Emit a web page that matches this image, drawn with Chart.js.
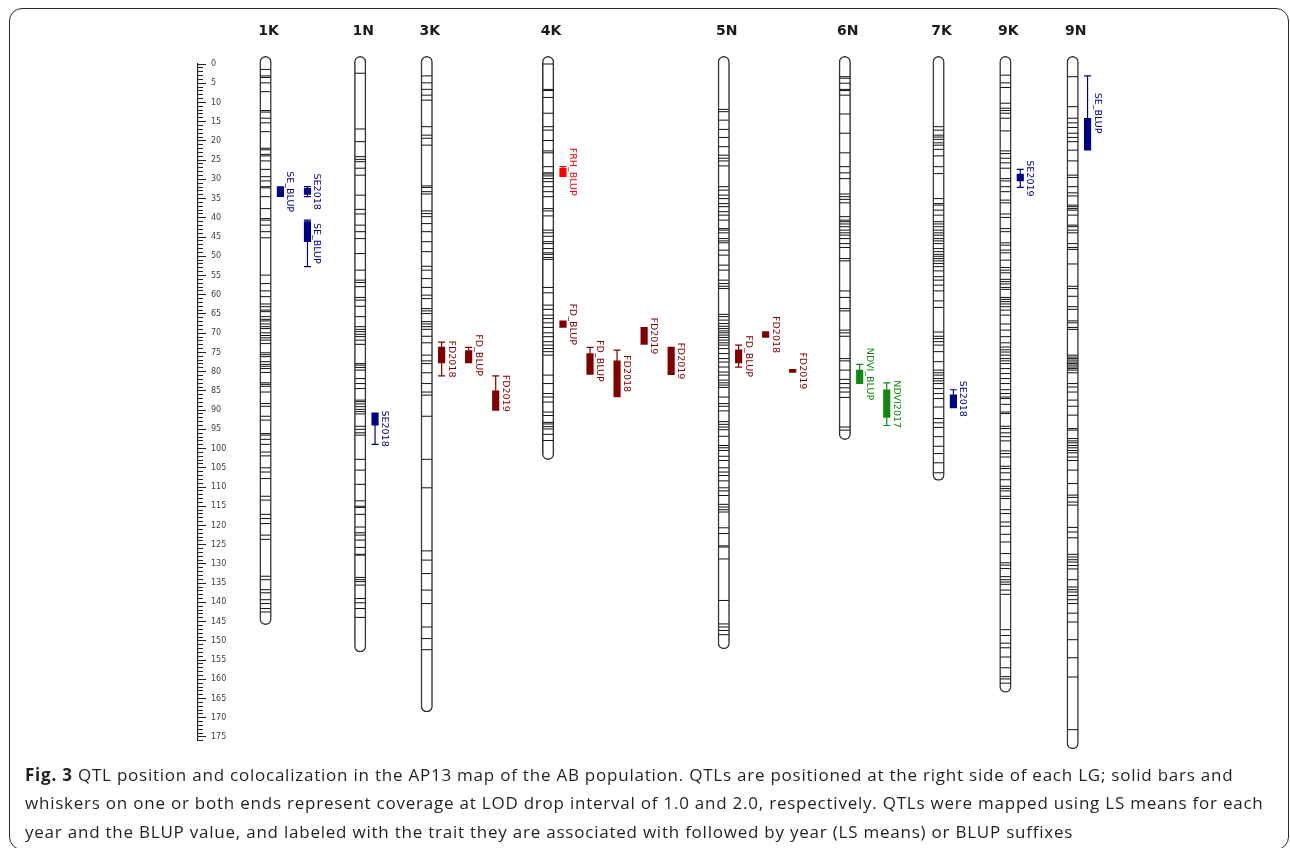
<!DOCTYPE html>
<html>
<head>
<meta charset="utf-8">
<script src="https://cdn.jsdelivr.net/npm/chart.js@4.4.1/dist/chart.umd.min.js"></script>
<style>
  html, body { margin: 0; padding: 0; background: #fff; }
  body { width: 1290px; height: 848px; position: relative; overflow: hidden; }
  #frame { position: absolute; left: 9px; top: 8px; width: 1280px; height: 842px;
           border: 1.5px solid #2a2a2a; border-radius: 13px; box-sizing: border-box; }
  canvas { position: absolute; top: 0; }
  #map { left: 0; }
  #ruler { left: 148px; }
  #caption { position: absolute; left: 25px; top: 761px; font: 17px "Open Sans", sans-serif;
             letter-spacing: 0.77px; line-height: 28.3px; color: #231f20; white-space: nowrap; }
  #caption b { font-weight: 700; }
</style>
</head>
<body>
<div id="frame"></div>
<canvas id="map" width="1290" height="848"></canvas>
<canvas id="ruler" width="90" height="848"></canvas>
<div id="caption"><b>Fig. 3</b> QTL position and colocalization in the AP13 map of the AB population. QTLs are positioned at the right side of each LG; solid bars and<br>whiskers on one or both ends represent coverage at LOD drop interval of 1.0 and 2.0, respectively. QTLs were mapped using LS means for each<br>year and the BLUP value, and labeled with the trait they are associated with followed by year (LS means) or BLUP suffixes</div>
<script>
/* ---------- data (cM) ---------- */
const LG_NAMES = ['1K', '1N', '3K', '4K', '5N', '6N', '7K', '9K', '9N'];
const LG_END   = [145.8, 152.9, 168.5, 102.9, 152.1, 97.7, 108.3, 163.4, 178.1];

const M_1K = [1.4, 3.1, 3.5, 4.9, 7.2, 12.1, 12.5, 14.1, 15.3, 17.6, 21.9, 22.3, 23.5, 23.9, 25.2, 27.4, 29.3, 30.4,
  31.9, 32.2, 34.5, 37.6, 40.2, 40.6, 41.9, 43.6, 45.2, 54.9, 57.1, 59.0, 60.5, 62.4, 63.1, 64.0, 64.4, 65.7, 66.4,
  66.8, 67.6, 68.3, 68.8, 69.9, 70.6, 71.2, 71.8, 72.7, 75.1, 75.6, 76.1, 77.4, 78.1, 78.6, 79.2, 80.2, 82.9, 83.3,
  83.8, 85.3, 88.3, 89.0, 91.6, 92.6, 96.1, 96.5, 97.6, 98.9, 100.9, 101.9, 105.0, 106.1, 107.8, 112.4, 113.4,
  117.1, 118.2, 119.5, 122.5, 123.6, 133.2, 134.1, 136.7, 137.5, 139.3, 140.3, 141.6, 142.5];
const M_1N = [2.4, 16.9, 20.2, 24.1, 24.8, 25.4, 27.1, 28.9, 34.1, 37.8, 39.0, 41.9, 43.6, 45.4, 49.3, 53.6, 56.2,
  56.8, 57.9, 60.7, 61.4, 63.0, 65.7, 68.3, 69.0, 69.6, 70.3, 70.9, 71.8, 72.9, 77.9, 78.3, 78.9, 79.6, 81.8, 83.1,
  84.4, 87.4, 87.8, 88.4, 89.1, 89.8, 90.4, 91.0, 94.2, 95.0, 95.9, 96.5, 102.8, 105.6, 109.3, 113.6, 115.0, 115.3,
  117.1, 120.4, 121.9, 122.5, 123.8, 125.7, 127.5, 127.7, 133.5, 134.1, 134.6, 135.5, 139.0, 140.1, 141.6, 143.9];
const M_3K = [3.1, 4.9, 6.6, 8.1, 9.4, 16.3, 18.5, 19.3, 21.1, 31.7, 32.1, 33.2, 33.8, 38.2, 38.9, 39.7, 41.5, 43.6,
  46.2, 48.8, 52.6, 53.6, 55.8, 58.1, 60.1, 61.0, 63.6, 64.2, 64.9, 67.0, 67.6, 68.3, 69.0, 70.8, 72.5, 75.7, 77.2,
  77.9, 80.3, 83.1, 85.3, 86.1, 91.6, 102.8, 110.2, 126.6, 129.0, 132.5, 136.8, 140.3, 146.4, 149.4, 152.3];
const M_4K = [0, 6.6, 6.9, 8.7, 12.8, 16.3, 17.2, 19.9, 22.6, 23.1, 26.7, 28.3, 28.6, 29.1, 29.8, 30.6, 31.9, 33.2,
  34.5, 37.6, 38.2, 39.5, 43.2, 43.9, 44.8, 46.2, 46.7, 48.0, 49.1, 49.5, 50.3, 50.8, 58.1, 59.5, 62.7, 63.8, 65.3,
  66.2, 67.3, 68.5, 69.9, 70.9, 72.2, 73.1, 74.0, 74.8, 75.7, 80.9, 83.1, 85.7, 86.6, 87.9, 90.5, 91.4, 93.2, 93.6,
  94.3, 94.9, 96.3, 97.9];
const M_5N = [11.8, 12.4, 14.6, 17.0, 19.1, 21.5, 23.7, 24.5, 25.2, 26.5, 31.9, 32.8, 34.1, 35.0, 36.3, 37.1, 38.4,
  39.3, 40.6, 42.8, 43.2, 43.9, 45.4, 46.0, 46.5, 48.4, 49.7, 52.3, 53.6, 56.2, 57.1, 57.8, 58.4, 65.1, 65.7, 66.6,
  67.5, 68.2, 68.8, 69.4, 69.9, 70.5, 71.1, 71.8, 72.5, 73.1, 74.0, 75.3, 76.6, 77.5, 78.8, 80.1, 80.9, 82.2, 82.9,
  83.5, 84.1, 86.6, 88.3, 89.0, 90.2, 93.0, 93.7, 94.4, 95.1, 96.8, 99.2, 99.8, 100.5, 102.0, 103.1, 105.0, 106.1,
  107.0, 108.4, 110.2, 111.0, 112.2, 114.5, 115.2, 115.9, 116.5, 120.6, 122.1, 125.3, 125.6, 128.7, 139.5, 145.6,
  146.4, 147.3, 148.4];
const M_6N = [3.3, 3.7, 5.0, 6.6, 6.9, 8.1, 13.0, 18.0, 23.1, 26.7, 28.3, 29.8, 33.8, 34.5, 35.2, 36.1, 39.7, 40.6,
  41.0, 41.6, 42.3, 43.2, 43.9, 44.5, 45.4, 46.7, 47.7, 50.6, 51.2, 59.0, 60.7, 63.6, 64.2, 69.2, 69.9, 70.8, 76.6,
  77.2, 79.6, 82.0, 83.1, 84.2, 85.3, 86.7, 94.4, 95.2];
const M_7K = [16.3, 17.2, 18.5, 19.0, 19.6, 20.5, 21.1, 22.2, 23.9, 26.7, 28.5, 35.0, 36.3, 36.7, 38.0, 39.3, 41.0,
  41.6, 42.3, 43.2, 43.9, 44.5, 45.4, 46.0, 46.7, 48.0, 48.8, 49.5, 50.0, 50.6, 51.2, 51.9, 52.7, 53.8, 55.3, 56.2,
  57.5, 59.0, 61.6, 63.3, 69.7, 70.8, 71.4, 72.2, 73.1, 74.8, 77.4, 79.6, 80.3, 80.9, 81.8, 82.4, 83.1, 84.4, 85.7,
  87.0, 89.2, 92.2, 93.3, 94.5, 96.9, 99.4, 101.3, 103.7, 106.3];
const M_9K = [2.9, 4.9, 6.1, 10.2, 11.5, 12.1, 12.8, 14.1, 17.4, 22.6, 23.3, 24.5, 25.7, 27.1, 29.8, 30.4, 31.9, 33.2,
  35.4, 36.1, 39.0, 39.9, 42.8, 43.6, 46.5, 47.1, 48.4, 49.1, 51.0, 52.9, 53.6, 54.3, 56.0, 56.6, 57.2, 58.1, 58.6,
  60.7, 61.2, 61.8, 62.4, 63.1, 64.0, 65.3, 67.6, 69.2, 70.9, 72.5, 73.6, 74.3, 74.9, 75.7, 76.6, 77.2, 77.9, 79.2,
  80.5, 81.8, 83.1, 84.7, 85.7, 86.6, 87.0, 88.5, 90.5, 90.9, 94.2, 94.8, 95.9, 96.9, 98.0, 100.6, 101.3, 102.2,
  104.6, 105.2, 106.3, 108.1, 109.8, 110.4, 111.0, 112.4, 113.0, 115.9, 116.9, 119.1, 120.2, 122.3, 124.3, 127.3,
  129.7, 130.3, 131.2, 133.3, 134.1, 134.7, 135.3, 136.8, 137.9, 147.1, 148.6, 150.6, 151.8, 154.2, 157.0, 159.3,
  159.9, 161.0];
const M_9N = [3.3, 11.1, 14.1, 15.3, 16.5, 18.0, 19.1, 20.2, 22.4, 25.2, 28.9, 29.5, 31.9, 33.5, 34.3, 36.7, 37.1,
  37.6, 38.0, 39.3, 41.9, 42.3, 43.2, 43.9, 46.7, 47.7, 48.2, 52.0, 57.8, 58.4, 60.4, 63.1, 63.8, 66.8, 67.3, 68.5,
  69.0, 75.7, 76.2, 76.6, 77.0, 77.5, 77.9, 78.3, 78.8, 79.2, 79.6, 80.3, 83.1, 84.0, 85.3, 87.4, 89.0, 91.3, 94.8,
  95.2, 97.4, 98.0, 98.5, 99.2, 99.8, 100.5, 101.1, 102.2, 103.1, 105.6, 109.1, 112.1, 112.7, 113.9, 114.7, 120.5,
  121.7, 123.2, 127.5, 128.2, 128.9, 129.5, 130.4, 131.3, 134.1, 136.0, 136.7, 137.3, 138.2, 139.3, 140.3, 142.8,
  145.1, 149.7, 154.4, 159.4, 173.1];
const MARKERS = [M_1K, M_1N, M_3K, M_4K, M_5N, M_6N, M_7K, M_9K, M_9N];

// QTLs: linkage group, label, LOD-1.0 interval (bar), LOD-2.0 ends (whiskers, null = none)
const QTL_LG    = ['1K', '1K', '1K', '1N', '3K', '3K', '3K', '4K', '4K', '4K', '4K', '4K', '4K',
                   '5N', '5N', '5N', '6N', '6N', '7K', '9K', '9N'];
const QTL_NAME  = ['SE_BLUP', 'SE2018', 'SE_BLUP', 'SE2018', 'FD2018', 'FD_BLUP', 'FD2019', 'FRH_BLUP', 'FD_BLUP',
                   'FD_BLUP', 'FD2018', 'FD2019', 'FD2019', 'FD_BLUP', 'FD2018', 'FD2019', 'NDVI_BLUP', 'NDVI2017',
                   'SE2018', 'SE2019', 'SE_BLUP'];
const QTL_LOD1  = [[31.9, 34.5], [32.3, 33.9], [41.0, 46.2], [90.7, 93.9], [73.6, 77.7], [74.5, 77.7], [85.0, 90.1],
                   [27.1, 29.3], [66.8, 68.5], [75.3, 80.7], [77.2, 86.6], [68.5, 72.9], [73.6, 80.8], [74.3, 77.7],
                   [69.6, 71.1], [79.4, 80.2], [79.6, 83.1], [84.7, 91.9], [86.0, 89.4], [28.6, 30.4], [14.1, 22.4]];
const QTL_LOD2  = [[null, null], [31.9, 34.5], [40.6, 52.7], [null, 98.9], [72.3, 81.1], [73.7, null], [81.1, null],
                   [26.7, null], [null, null], [73.7, null], [74.4, null], [null, null], [null, null], [73.1, 78.8],
                   [null, null], [null, null], [78.1, null], [82.9, 94.0], [84.7, null], [27.4, 32.1], [3.1, null]];

const RULER_MAX = 176, RULER_LABEL_STEP = 5;

/* ---------- layout / style ---------- */
const LG_X      = [262, 357.5, 424.7, 547.2, 724.5, 846.7, 941.3, 1008.8, 1076.7];
const QTL_COL   = [0, 1, 1, 0, 0, 1, 2, 0, 0, 1, 2, 3, 4, 0, 1, 2, 0, 1, 0, 0, 0];
const QTL_OFFSET = 15, QTL_STEP = 27.3, LABEL_GAP = 7;
const CM_PX = 3.8457, CM0_Y = 64, Y_MIN = -3, Y_MAX = 180, H = 848;
const TRAIT_COLORS = { SE: '#000080', FD: '#800000', FRH: '#ff0000', NDVI: '#118811' };

const traitColor = name => TRAIT_COLORS[name.replace(/_?(BLUP|\d{4})$/, '')];
const qtlX = i => LG_X[LG_NAMES.indexOf(QTL_LG[i])] + QTL_OFFSET + QTL_COL[i] * QTL_STEP;
const yPix = cm => CM0_Y + cm * CM_PX;

/* ---------- datasets ---------- */
const whiskerSets = QTL_NAME.map((name, i) => {
  const x = qtlX(i), [b0, b1] = QTL_LOD1[i], [w0, w1] = QTL_LOD2[i], c = traitColor(name);
  const pts = [];
  if (w0 != null) pts.push({ x, y: w0, cap: true }, { x, y: b0 });
  if (w0 != null && w1 != null) pts.push({ x, y: null });
  if (w1 != null) pts.push({ x, y: b1 }, { x, y: w1, cap: true });
  return {
    type: 'line', data: pts, borderColor: c, borderWidth: 1.2, spanGaps: false, fill: false,
    pointStyle: 'line', pointBorderColor: c, pointBorderWidth: 1.2,
    pointRadius: ctx => (ctx.raw && ctx.raw.cap ? 3.5 : 0)
  };
}).filter(d => d.data.length);

const qtlBars = {
  type: 'bar', grouped: false, barThickness: 6.5, borderWidth: 0,
  data: QTL_NAME.map((n, i) => ({ x: qtlX(i), y: QTL_LOD1[i] })),
  backgroundColor: QTL_NAME.map(traitColor)
};

const markerSets = MARKERS.map((list, g) => ({
  type: 'line', showLine: false, data: list.map(cm => ({ x: LG_X[g], y: cm })),
  pointStyle: 'line', pointRadius: 5, pointBorderColor: '#111', pointBorderWidth: 1
}));

const tubes = {
  type: 'bar', grouped: false, barThickness: 11.5, borderRadius: 6, borderSkipped: false,
  borderWidth: 1.5, borderColor: '#333', backgroundColor: '#fff',
  data: LG_END.map((end, g) => ({ x: LG_X[g], y: [-2, end] }))
};

const qtlLabels = {
  id: 'qtlLabels',
  afterDatasetsDraw(chart) {
    const { ctx, scales: { x, y } } = chart;
    ctx.save();
    ctx.font = '9.5px "DejaVu Sans"';
    ctx.textAlign = 'center';
    ctx.textBaseline = 'alphabetic';
    QTL_NAME.forEach((name, i) => {
      const ends = QTL_LOD1[i].concat(QTL_LOD2[i]).filter(v => v != null);
      const mid = (Math.min(...ends) + Math.max(...ends)) / 2;
      ctx.save();
      ctx.translate(x.getPixelForValue(qtlX(i)) + LABEL_GAP, y.getPixelForValue(mid));
      ctx.rotate(Math.PI / 2);
      ctx.fillStyle = traitColor(name);
      ctx.fillText(name, 0, 0);
      ctx.restore();
    });
    ctx.restore();
  }
};

const plotTop = yPix(Y_MIN);

new Chart(document.getElementById('map'), {
  type: 'bar',
  data: { datasets: [...whiskerSets, qtlBars, ...markerSets, tubes] },
  options: {
    responsive: false, animation: false, devicePixelRatio: 1, events: [],
    layout: { padding: { top: 0, left: 0, right: 0, bottom: H - yPix(Y_MAX) } },
    plugins: { legend: { display: false }, tooltip: { enabled: false } },
    scales: {
      x: {
        type: 'linear', position: 'top', min: 0, max: 1290, offset: false,
        afterBuildTicks: s => { s.ticks = LG_X.map(v => ({ value: v })); },
        afterFit: s => { s.height = plotTop; },
        grid: { display: false, drawTicks: false, offset: false },
        border: { display: false },
        ticks: {
          autoSkip: false, maxRotation: 0, padding: 12.5, labelOffset: 3, color: '#1a1a1a',
          font: { family: 'DejaVu Sans', size: 14, weight: 'bold' },
          callback: (v, i) => LG_NAMES[i]
        }
      },
      y: { type: 'linear', display: false, reverse: true, min: Y_MIN, max: Y_MAX }
    }
  },
  plugins: [qtlLabels]
});

// cM ruler: minor ticks every 1 cM, labelled ticks every 5 cM
new Chart(document.getElementById('ruler'), {
  type: 'line',
  data: { datasets: [] },
  options: {
    responsive: false, animation: false, devicePixelRatio: 1, events: [],
    layout: { padding: { top: yPix(0), bottom: H - yPix(RULER_MAX), left: 0, right: 0 } },
    plugins: { legend: { display: false }, tooltip: { enabled: false } },
    scales: {
      x: { type: 'linear', display: false },
      yMinor: {
        axis: 'y', type: 'linear', position: 'right', weight: 0, reverse: true, min: 0, max: RULER_MAX,
        afterFit: s => { s.width = 0; },
        ticks: { display: false, stepSize: 1, autoSkip: false },
        grid: { drawOnChartArea: false, tickLength: 5, tickColor: '#222', tickWidth: 1 },
        border: { display: true, color: '#222', width: 1.2 }
      },
      y: {
        type: 'linear', position: 'right', weight: 1, reverse: true, min: 0, max: RULER_MAX,
        afterFit: s => { s.width = 40; },
        ticks: { stepSize: RULER_LABEL_STEP, includeBounds: false, autoSkip: false, padding: 5, color: '#404040',
                 font: { family: 'DejaVu Sans', size: 8 } },
        grid: { drawOnChartArea: false, tickLength: 8, tickColor: '#222', tickWidth: 1 },
        border: { display: false }
      }
    }
  }
});
</script>
</body>
</html>
